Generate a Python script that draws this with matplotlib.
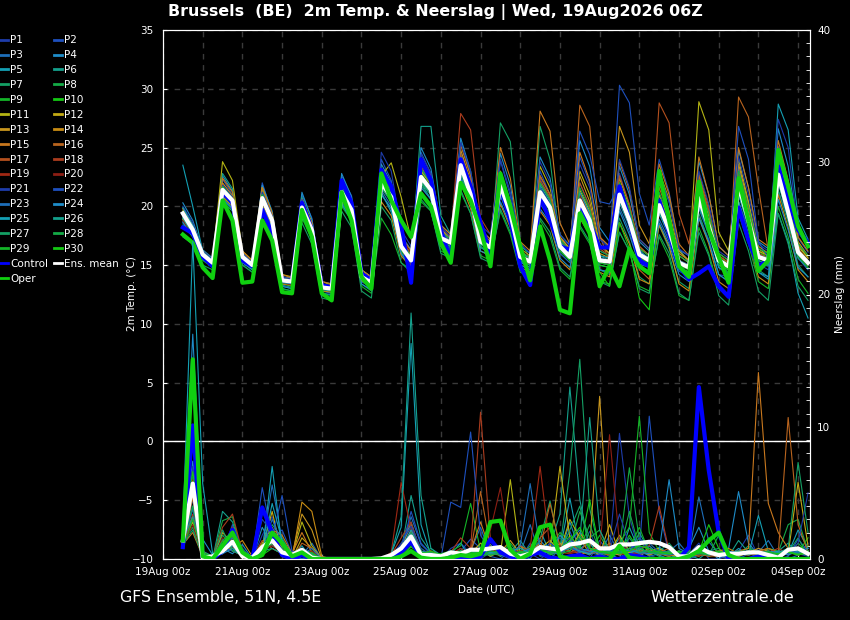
import numpy as np
import pandas as pd
import matplotlib
matplotlib.use('Agg')
import matplotlib.pyplot as plt
import matplotlib.dates as mdates
from matplotlib.ticker import MultipleLocator

# 6-hourly steps, 19Aug 12z .. 04Sep 06z
times = pd.date_range('2026-08-19 12:00', '2026-09-04 06:00', freq='6h')

# ---- 2m temperature (degC) ----
mean_temp = [19.4, 18.0, 15.9, 15.2, 21.4, 20.5, 15.7, 15.0, 20.7, 18.8, 13.7, 13.6, 19.9, 18.0, 13.1, 13.0,
             21.2, 19.7, 14.0, 13.5, 22.0, 20.8, 16.6, 15.4, 22.5, 21.4, 17.3, 16.9, 23.5, 21.0, 17.0, 16.5,
             21.8, 19.4, 15.7, 15.3, 21.2, 19.9, 16.6, 15.7, 20.5, 18.8, 15.4, 15.3, 21.0, 18.8, 15.9, 15.4,
             20.1, 18.0, 15.2, 14.8, 20.7, 18.3, 15.4, 14.9, 21.8, 18.8, 15.7, 15.4, 22.7, 19.5, 16.1, 15.2]
ctrl_temp = [18.2, 17.7, 15.7, 14.9, 21.2, 20.3, 15.4, 14.9, 19.7, 17.7, 13.7, 13.6, 20.3, 18.0, 13.3, 13.1,
             22.2, 20.3, 14.3, 13.7, 23.1, 21.7, 18.3, 13.5, 24.0, 22.2, 18.0, 15.4, 24.0, 21.7, 18.6, 16.0,
             21.7, 18.8, 14.9, 13.3, 20.8, 18.8, 16.6, 16.3, 20.3, 18.6, 16.5, 16.5, 21.7, 18.8, 15.4, 14.9,
             20.5, 17.7, 14.9, 13.8, 14.3, 14.9, 13.2, 12.3, 19.9, 17.1, 14.9, 15.4, 23.4, 20.5, 18.0, 16.9]
oper_temp = [17.6, 16.9, 14.8, 13.9, 20.5, 18.8, 13.5, 13.6, 18.8, 17.1, 12.7, 12.6, 19.7, 17.4, 12.6, 12.0,
             21.2, 18.8, 14.0, 13.0, 22.8, 20.5, 18.8, 17.4, 21.1, 20.0, 16.9, 15.2, 22.0, 20.5, 18.0, 14.9,
             22.8, 20.0, 16.6, 13.7, 18.3, 15.4, 11.2, 10.9, 19.4, 17.7, 13.2, 14.9, 13.2, 16.4, 14.9, 14.3,
             23.0, 18.8, 14.9, 14.0, 22.1, 18.0, 15.7, 13.5, 22.4, 18.8, 14.5, 15.4, 24.8, 21.7, 18.3, 16.6]

t_p1 = [19.8, 18.3, 16.0, 15.4, 21.8, 20.6, 15.9, 15.1, 21.0, 19.0, 13.9, 13.5, 20.3, 18.2, 13.2, 12.9,
        21.9, 20.1, 14.3, 13.8, 23.2, 21.5, 17.0, 15.8, 23.8, 22.1, 17.8, 17.0, 24.6, 22.0, 17.4, 16.2,
        22.9, 20.4, 16.0, 15.0, 22.4, 20.6, 17.0, 16.1, 22.0, 20.0, 16.2, 15.8, 22.8, 20.1, 16.4, 15.2,
        21.0, 18.6, 15.0, 14.3, 19.1, 17.2, 14.2, 14.0, 20.4, 18.1, 15.1, 14.6, 21.3, 19.0, 16.0, 15.1]
t_p2 = [19.0, 17.6, 15.7, 15.0, 22.3, 21.0, 15.3, 14.6, 22.0, 19.4, 13.5, 13.2, 21.0, 19.0, 13.0, 12.6,
        22.6, 20.9, 14.0, 13.2, 24.0, 22.2, 17.1, 15.2, 24.6, 22.8, 18.0, 17.2, 25.5, 22.6, 17.2, 16.0,
        23.9, 20.9, 15.3, 14.6, 23.0, 21.0, 17.2, 16.3, 24.2, 22.0, 17.4, 16.5, 30.3, 28.8, 21.1, 18.4,
        24.0, 21.2, 16.4, 15.2, 22.1, 19.4, 15.3, 14.2, 23.3, 20.3, 16.1, 15.0, 25.1, 22.0, 17.3, 16.1]
t_p3 = [18.7, 17.5, 15.5, 14.9, 20.6, 19.8, 15.4, 14.8, 20.0, 18.3, 13.3, 13.1, 19.4, 17.6, 12.8, 12.6,
        20.4, 19.0, 13.6, 13.1, 21.4, 20.0, 16.0, 15.0, 22.0, 21.0, 17.0, 16.5, 22.6, 20.6, 16.6, 16.0,
        20.9, 18.7, 15.2, 15.0, 20.2, 19.0, 16.0, 15.2, 19.4, 17.8, 14.6, 14.4, 19.9, 17.9, 15.1, 14.8,
        18.9, 17.1, 14.5, 14.0, 19.8, 17.6, 14.8, 14.3, 21.0, 18.2, 15.2, 14.9, 22.0, 19.0, 15.6, 14.6]
t_p4 = [20.3, 18.8, 16.3, 15.6, 22.6, 21.3, 16.0, 15.3, 21.8, 19.6, 14.0, 13.9, 21.2, 18.9, 13.6, 13.4,
        22.8, 20.8, 14.6, 14.0, 23.6, 22.0, 17.5, 16.3, 25.0, 23.2, 18.4, 17.6, 25.8, 23.0, 18.0, 17.2,
        24.5, 21.8, 16.6, 16.0, 24.2, 22.4, 17.6, 16.7, 25.6, 23.4, 18.2, 17.0, 23.4, 21.0, 17.0, 16.2,
        22.6, 20.4, 16.3, 15.8, 23.8, 21.0, 16.6, 15.8, 24.8, 21.6, 17.0, 16.4, 26.6, 23.4, 17.8, 16.6]
t_p5 = [23.5, 20.0, 16.2, 15.3, 21.0, 20.0, 15.6, 14.9, 20.4, 18.6, 13.8, 13.7, 19.6, 17.8, 13.3, 13.1,
        20.8, 19.4, 14.1, 13.6, 21.2, 19.5, 16.2, 15.2, 22.0, 20.6, 16.8, 16.4, 22.8, 20.4, 16.5, 16.0,
        21.0, 18.8, 15.3, 14.8, 20.5, 19.2, 16.2, 15.4, 19.8, 18.2, 15.0, 14.8, 20.3, 18.3, 15.6, 15.0,
        19.4, 17.4, 14.8, 14.4, 20.0, 17.8, 15.0, 14.6, 21.0, 18.4, 15.4, 15.0, 28.7, 26.5, 19.0, 17.2]
t_p6 = [19.2, 17.8, 15.8, 15.1, 22.8, 21.5, 15.8, 15.0, 21.4, 19.2, 13.8, 13.5, 20.8, 18.6, 13.4, 13.0,
        21.8, 20.2, 14.2, 13.4, 22.6, 21.0, 16.4, 15.0, 26.8, 26.8, 19.2, 17.6, 24.0, 21.4, 17.0, 16.4,
        22.2, 19.6, 15.6, 15.0, 21.6, 20.0, 16.4, 15.4, 21.0, 19.4, 15.8, 15.4, 21.6, 19.2, 16.0, 15.5,
        20.4, 18.4, 15.2, 14.8, 21.2, 18.8, 15.6, 15.0, 22.4, 19.3, 16.0, 15.6, 23.2, 20.0, 16.4, 15.2]
t_p7 = [18.9, 17.7, 15.6, 14.9, 20.8, 19.9, 15.3, 14.6, 20.0, 18.2, 13.2, 13.0, 19.2, 17.3, 12.6, 12.4,
        20.3, 18.9, 13.4, 12.8, 21.0, 19.8, 16.0, 14.8, 21.8, 20.6, 16.8, 16.2, 22.8, 20.5, 16.6, 16.0,
        27.1, 25.5, 17.0, 15.6, 26.8, 24.0, 17.0, 15.8, 20.0, 18.0, 14.6, 14.2, 19.0, 17.0, 14.0, 13.4,
        18.4, 16.4, 13.6, 13.0, 19.4, 17.0, 14.2, 13.6, 20.4, 17.6, 14.6, 14.0, 21.4, 18.6, 15.0, 14.0]
t_p8 = [19.6, 18.1, 16.0, 15.3, 21.2, 20.3, 15.5, 14.9, 20.5, 18.7, 13.6, 13.5, 19.8, 17.9, 13.0, 12.8,
        21.0, 19.6, 13.9, 13.3, 22.4, 21.0, 16.8, 15.6, 22.0, 21.0, 17.0, 16.6, 23.0, 20.8, 16.8, 16.4,
        21.4, 19.0, 15.4, 15.0, 21.0, 19.6, 16.4, 15.6, 20.8, 19.0, 15.4, 15.2, 21.6, 19.4, 16.0, 15.4,
        20.0, 17.8, 15.0, 14.6, 20.2, 17.8, 15.0, 14.4, 21.4, 18.4, 15.4, 15.0, 22.4, 19.2, 16.0, 15.0]
t_p9 = [19.0, 17.8, 15.6, 14.8, 20.4, 19.6, 15.0, 14.4, 19.8, 18.0, 13.0, 12.8, 19.0, 17.2, 12.4, 12.2,
        20.0, 18.8, 13.2, 12.6, 19.0, 17.6, 15.2, 14.6, 20.4, 19.6, 16.2, 15.8, 21.2, 19.4, 15.8, 15.4,
        19.6, 17.6, 14.4, 14.0, 18.8, 17.4, 14.6, 13.8, 18.2, 16.8, 13.6, 13.4, 17.8, 16.2, 13.2, 12.8,
        17.4, 15.6, 12.4, 12.0, 18.2, 16.0, 13.0, 12.4, 19.4, 16.8, 13.6, 13.0, 20.0, 17.4, 13.8, 12.6]
t_p10 = [18.4, 17.4, 15.4, 14.8, 21.0, 20.1, 15.4, 14.7, 20.2, 18.4, 13.4, 13.2, 19.6, 17.8, 12.9, 12.7,
         20.6, 19.2, 13.7, 13.1, 21.6, 20.4, 16.2, 15.2, 22.2, 21.0, 17.0, 16.6, 23.2, 20.6, 16.8, 16.2,
         21.2, 19.0, 15.4, 15.0, 20.6, 19.4, 16.2, 15.4, 19.6, 18.0, 15.0, 14.8, 22.0, 19.4, 16.0, 15.4,
         20.6, 18.4, 15.4, 15.0, 21.6, 18.8, 15.6, 15.2, 22.6, 19.6, 16.2, 15.6, 23.6, 20.2, 16.4, 15.4]
t_p11 = [19.8, 18.4, 16.2, 15.5, 23.8, 22.2, 16.2, 15.4, 21.6, 19.4, 14.2, 14.0, 20.6, 18.6, 13.6, 13.3,
         22.0, 20.4, 14.6, 13.9, 22.6, 23.7, 20.8, 17.2, 23.0, 21.8, 17.6, 17.0, 24.2, 21.6, 17.4, 16.8,
         22.4, 20.0, 16.2, 15.6, 23.4, 21.6, 17.4, 16.4, 23.0, 21.0, 16.8, 16.0, 22.4, 20.0, 16.6, 15.8,
         23.0, 20.6, 16.2, 15.4, 28.9, 26.5, 17.8, 16.2, 24.0, 20.4, 16.4, 15.8, 24.6, 21.0, 16.8, 15.6]
t_p12 = [19.2, 17.9, 15.8, 15.1, 21.6, 20.6, 15.8, 15.1, 20.9, 18.9, 13.8, 13.7, 20.1, 18.1, 13.2, 13.1,
         21.4, 19.8, 14.2, 13.6, 22.2, 21.0, 16.8, 15.6, 23.0, 22.0, 18.0, 17.4, 24.0, 21.4, 17.4, 16.8,
         22.4, 19.8, 16.0, 15.6, 22.0, 20.6, 17.2, 16.2, 21.4, 19.6, 16.0, 15.6, 21.8, 19.6, 16.4, 15.8,
         21.0, 18.8, 15.8, 15.2, 21.8, 19.2, 15.8, 15.2, 23.0, 19.8, 16.2, 15.8, 23.8, 20.4, 16.6, 15.6]
t_p13 = [19.4, 18.0, 16.0, 15.3, 22.0, 20.9, 16.0, 15.2, 21.2, 19.2, 14.0, 13.8, 20.4, 18.4, 13.4, 13.2,
         21.6, 20.0, 14.4, 13.8, 22.8, 21.4, 17.2, 15.8, 23.6, 22.2, 18.0, 17.2, 24.8, 22.2, 17.8, 17.0,
         23.0, 20.4, 16.4, 15.8, 22.6, 21.0, 17.4, 16.4, 22.6, 20.4, 16.6, 16.0, 26.8, 24.6, 18.4, 16.8,
         22.0, 19.6, 16.0, 15.4, 22.6, 19.6, 16.0, 15.4, 23.6, 20.2, 16.6, 16.0, 24.4, 21.0, 17.0, 15.8]
t_p14 = [18.9, 17.6, 15.7, 15.0, 20.8, 20.0, 15.4, 14.8, 20.1, 18.4, 13.4, 13.3, 19.3, 17.6, 12.8, 12.7,
         20.6, 19.3, 13.7, 13.2, 20.4, 19.2, 15.8, 14.8, 21.0, 20.2, 16.6, 16.2, 22.0, 19.8, 16.2, 15.8,
         20.2, 18.2, 14.8, 14.4, 19.6, 18.4, 15.4, 14.6, 19.0, 17.6, 14.4, 14.0, 18.6, 16.8, 13.8, 13.4,
         18.4, 16.6, 13.4, 12.8, 19.0, 16.8, 13.6, 13.0, 20.0, 17.2, 14.0, 13.4, 21.0, 18.2, 14.6, 13.6]
t_p15 = [19.6, 18.2, 16.0, 15.4, 22.4, 21.2, 16.2, 15.4, 21.6, 19.4, 14.2, 13.9, 20.6, 18.6, 13.6, 13.4,
         22.0, 20.4, 14.6, 14.0, 23.0, 21.6, 17.4, 16.2, 24.0, 22.6, 18.4, 17.6, 25.2, 22.6, 18.0, 17.2,
         25.0, 22.4, 17.0, 16.2, 28.1, 26.4, 18.6, 16.8, 24.6, 22.2, 17.4, 16.6, 23.8, 21.4, 17.2, 16.4,
         23.6, 21.0, 16.8, 15.8, 24.2, 21.0, 16.6, 15.8, 25.0, 21.6, 17.2, 16.6, 25.6, 22.2, 17.4, 16.2]
t_p16 = [19.1, 17.8, 15.7, 15.1, 21.6, 20.7, 15.6, 14.8, 20.8, 18.8, 13.6, 13.4, 20.0, 18.0, 13.0, 12.8,
         21.4, 19.8, 13.8, 13.2, 22.4, 21.0, 16.4, 15.0, 23.4, 22.0, 17.4, 16.8, 24.4, 21.8, 17.0, 16.4,
         22.8, 20.2, 15.6, 15.0, 22.6, 21.0, 16.6, 15.6, 28.6, 26.8, 17.6, 15.2, 21.0, 18.6, 14.6, 13.8,
         21.6, 19.2, 15.0, 14.2, 22.8, 20.0, 15.4, 14.6, 29.3, 27.6, 21.6, 16.2, 23.6, 20.4, 16.0, 15.0]
t_p17 = [19.5, 18.1, 15.9, 15.3, 21.8, 20.8, 15.8, 15.0, 21.0, 19.0, 13.8, 13.6, 20.2, 18.2, 13.2, 13.0,
         21.6, 20.0, 14.2, 13.6, 22.6, 21.2, 17.0, 15.8, 23.2, 22.0, 17.8, 17.2, 24.2, 21.8, 17.4, 16.8,
         22.6, 20.2, 16.2, 15.6, 22.2, 20.8, 17.0, 16.0, 22.0, 20.0, 16.4, 15.8, 22.6, 20.2, 16.6, 15.8,
         28.8, 27.1, 19.4, 16.8, 22.4, 19.6, 15.8, 15.2, 22.8, 19.6, 16.0, 15.6, 23.4, 20.2, 16.4, 15.4]
t_p18 = [19.3, 17.9, 15.8, 15.2, 21.4, 20.5, 15.7, 15.0, 20.9, 18.9, 13.8, 13.6, 20.2, 18.2, 13.3, 13.0,
         21.5, 19.9, 14.2, 13.6, 22.8, 21.4, 17.2, 16.0, 23.8, 22.4, 18.2, 17.4, 27.9, 26.5, 19.0, 17.6,
         22.0, 19.6, 15.8, 15.4, 21.4, 20.0, 16.6, 15.8, 21.0, 19.2, 15.6, 15.2, 21.4, 19.2, 16.0, 15.4,
         20.4, 18.2, 15.2, 14.8, 21.0, 18.6, 15.4, 14.8, 22.0, 19.0, 15.8, 15.4, 22.6, 19.4, 16.0, 15.0]
t_p19 = [19.7, 18.2, 16.1, 15.4, 21.2, 20.4, 15.6, 14.9, 20.6, 18.8, 13.6, 13.5, 19.8, 18.0, 13.0, 12.9,
         21.0, 19.6, 13.9, 13.4, 22.0, 20.6, 16.6, 15.4, 22.4, 21.2, 17.2, 16.8, 23.4, 21.0, 17.0, 16.4,
         21.6, 19.2, 15.6, 15.2, 21.0, 19.8, 16.4, 15.6, 20.2, 18.6, 15.2, 15.0, 20.6, 18.6, 15.6, 15.2,
         19.8, 17.8, 15.0, 14.6, 20.4, 18.0, 15.2, 14.8, 21.4, 18.6, 15.6, 15.2, 22.4, 19.2, 15.8, 15.0]
t_p20 = [18.8, 17.5, 15.6, 15.0, 21.0, 20.2, 15.5, 14.8, 20.3, 18.5, 13.5, 13.3, 19.5, 17.7, 12.9, 12.8,
         20.8, 19.4, 13.8, 13.3, 21.8, 20.4, 16.4, 15.2, 22.6, 21.4, 17.4, 17.0, 23.6, 21.2, 17.2, 16.6,
         21.8, 19.4, 15.8, 15.4, 21.4, 20.0, 16.6, 15.8, 21.0, 19.0, 15.6, 15.4, 21.4, 19.0, 15.8, 15.4,
         20.6, 18.4, 15.4, 15.0, 21.2, 18.6, 15.6, 15.0, 22.2, 19.0, 15.8, 15.4, 23.0, 19.6, 16.2, 15.2]
t_p21 = [20.0, 18.6, 16.2, 15.5, 21.8, 20.8, 16.0, 15.2, 21.2, 19.2, 14.0, 13.8, 20.6, 18.4, 13.4, 13.2,
         22.2, 20.4, 14.4, 13.8, 24.6, 23.0, 18.0, 16.6, 24.4, 22.8, 18.2, 17.4, 25.4, 23.0, 18.4, 17.6,
         24.0, 21.2, 16.8, 16.0, 23.8, 22.0, 17.6, 16.6, 23.6, 21.6, 17.2, 16.4, 24.0, 21.6, 17.2, 16.4,
         22.8, 20.4, 16.4, 15.8, 23.0, 20.2, 16.2, 15.6, 24.2, 21.0, 16.8, 16.2, 27.4, 25.0, 18.0, 16.6]
t_p22 = [19.1, 17.7, 15.7, 15.1, 21.3, 20.4, 15.6, 14.9, 20.6, 18.6, 13.6, 13.5, 19.9, 17.9, 13.0, 12.9,
         21.2, 19.6, 14.0, 13.4, 22.2, 20.8, 16.6, 15.4, 22.8, 21.6, 17.6, 17.0, 23.8, 21.4, 17.2, 16.6,
         22.0, 19.6, 15.8, 15.4, 21.6, 20.2, 16.8, 16.0, 26.4, 24.4, 20.4, 20.2, 21.8, 19.6, 16.0, 15.4,
         20.2, 18.0, 15.2, 14.8, 20.8, 18.4, 15.4, 14.8, 26.8, 24.0, 17.0, 15.6, 22.2, 19.2, 15.8, 15.0]
t_p23 = [19.4, 18.0, 15.9, 15.2, 21.5, 20.5, 15.7, 15.0, 20.8, 18.8, 13.7, 13.6, 20.0, 18.0, 13.1, 13.0,
         21.3, 19.8, 14.0, 13.5, 22.0, 20.8, 16.6, 15.4, 22.6, 21.4, 17.4, 16.9, 23.6, 21.2, 17.0, 16.6,
         21.8, 19.4, 15.8, 15.4, 21.2, 19.8, 16.6, 15.8, 20.6, 19.0, 15.6, 15.4, 21.2, 19.0, 16.0, 15.6,
         20.2, 18.2, 15.4, 15.0, 20.8, 18.4, 15.6, 15.0, 22.0, 19.0, 15.8, 15.6, 22.8, 19.6, 16.2, 15.4]
t_p24 = [18.6, 17.4, 15.5, 14.9, 20.6, 19.8, 15.2, 14.6, 20.0, 18.2, 13.2, 13.0, 19.2, 17.4, 12.6, 12.5,
         20.2, 18.8, 13.4, 12.9, 21.0, 19.8, 16.0, 14.8, 21.6, 20.6, 16.6, 16.2, 22.4, 20.2, 16.2, 15.8,
         20.4, 18.4, 15.0, 14.6, 19.8, 18.6, 15.6, 14.8, 19.2, 17.8, 14.6, 14.4, 19.6, 17.6, 15.0, 14.4,
         18.6, 16.8, 14.2, 13.6, 19.0, 17.0, 14.2, 13.6, 20.0, 17.4, 14.4, 14.0, 20.6, 18.0, 14.8, 14.0]
t_p25 = [19.9, 18.4, 16.1, 15.4, 21.6, 20.6, 15.8, 15.1, 21.0, 19.0, 13.8, 13.7, 20.2, 18.2, 13.2, 13.1,
         21.6, 20.0, 14.2, 13.6, 22.4, 21.2, 16.8, 15.6, 23.2, 22.0, 17.8, 17.2, 24.2, 21.6, 17.4, 16.8,
         22.4, 19.8, 16.0, 15.6, 21.8, 20.4, 17.0, 16.0, 21.2, 19.4, 15.8, 15.6, 21.6, 19.4, 16.2, 15.6,
         20.4, 18.2, 15.2, 14.8, 20.2, 17.8, 14.8, 14.2, 20.4, 17.6, 14.4, 13.8, 19.4, 17.0, 12.6, 10.5]
t_p26 = [19.0, 17.6, 15.7, 15.0, 21.0, 20.2, 15.5, 14.8, 20.4, 18.6, 13.5, 13.4, 19.6, 17.8, 12.9, 12.8,
         20.9, 19.5, 13.8, 13.3, 21.6, 20.4, 16.4, 15.2, 22.2, 21.0, 17.0, 16.6, 23.2, 20.8, 16.8, 16.2,
         21.4, 19.0, 15.4, 15.0, 21.0, 19.6, 16.4, 15.6, 20.2, 18.6, 15.2, 15.0, 20.6, 18.6, 15.6, 15.0,
         19.6, 17.6, 14.8, 14.4, 20.2, 17.8, 15.0, 14.6, 21.2, 18.4, 15.4, 15.0, 22.0, 19.0, 15.6, 14.8]
t_p27 = [17.4, 16.8, 15.0, 14.6, 20.4, 19.6, 15.0, 14.4, 19.6, 17.8, 13.0, 12.8, 18.6, 16.8, 12.2, 12.0,
         19.6, 18.2, 12.8, 12.2, 20.0, 18.8, 15.2, 14.4, 20.6, 19.6, 16.0, 15.6, 21.4, 19.4, 15.6, 15.2,
         19.8, 17.8, 14.6, 14.2, 19.0, 17.8, 14.8, 14.0, 18.4, 17.0, 13.6, 13.2, 17.8, 16.2, 13.0, 12.6,
         17.6, 16.0, 12.6, 12.0, 17.8, 15.8, 12.4, 11.6, 18.6, 16.2, 12.8, 12.0, 19.4, 16.8, 13.2, 12.0]
t_p28 = [19.5, 18.1, 16.0, 15.3, 21.7, 20.7, 15.8, 15.1, 21.0, 19.0, 13.9, 13.7, 20.3, 18.2, 13.2, 13.1,
         21.6, 20.0, 14.2, 13.7, 22.6, 21.4, 17.0, 15.8, 23.2, 22.0, 17.8, 17.2, 24.0, 21.6, 17.4, 16.8,
         22.6, 20.0, 16.2, 15.6, 22.0, 20.6, 17.2, 16.2, 21.6, 19.8, 16.2, 15.8, 22.0, 19.8, 16.4, 15.8,
         21.2, 19.0, 15.8, 15.2, 21.8, 19.4, 16.0, 15.4, 23.0, 20.0, 16.4, 16.0, 24.0, 20.8, 16.8, 15.8]
t_p29 = [19.2, 17.8, 15.8, 15.1, 21.2, 20.3, 15.6, 14.9, 20.5, 18.7, 13.6, 13.5, 19.7, 17.9, 13.0, 12.9,
         21.0, 19.6, 13.9, 13.4, 21.8, 20.6, 16.6, 15.4, 22.4, 21.2, 17.2, 16.8, 23.4, 21.0, 17.0, 16.4,
         21.6, 19.2, 15.6, 15.2, 21.0, 19.8, 16.4, 15.6, 20.4, 18.6, 15.2, 15.0, 20.8, 18.6, 15.6, 15.2,
         19.8, 17.8, 15.0, 14.6, 20.4, 18.0, 15.2, 14.6, 21.4, 18.6, 15.6, 15.2, 22.2, 19.2, 15.8, 14.8]
t_p30 = [19.6, 18.2, 16.0, 15.3, 21.6, 20.6, 15.8, 15.0, 20.9, 18.9, 13.7, 13.6, 20.0, 18.1, 13.1, 13.0,
         21.3, 19.8, 14.0, 13.5, 22.2, 21.0, 16.8, 15.6, 22.8, 21.6, 17.4, 17.0, 23.8, 21.4, 17.2, 16.6,
         22.0, 19.6, 15.8, 15.4, 21.4, 20.0, 16.8, 15.8, 20.2, 18.4, 14.4, 13.2, 18.6, 16.4, 12.2, 11.2,
         20.0, 17.6, 14.8, 14.4, 20.6, 18.2, 15.2, 14.6, 21.6, 18.8, 15.6, 15.2, 22.4, 19.4, 16.0, 15.0]

# ---- 6-hourly precipitation (mm) ----
mean_rain = [1.4, 5.7, 0.1, 0.2, 0.6, 1.3, 0.2, 0.1, 0.9, 1.4, 0.5, 0.3, 0.7, 0.1, 0, 0,
             0, 0, 0, 0, 0.05, 0.3, 0.8, 1.7, 0.3, 0.3, 0.2, 0.5, 0.4, 0.7, 0.7, 0.8,
             0.9, 0.4, 0.2, 0.4, 0.9, 0.8, 0.7, 1.1, 1.2, 1.4, 0.8, 0.8, 1.1, 1.1, 1.2, 1.3,
             1.2, 0.9, 0.2, 0.2, 0.9, 0.5, 0.3, 0.4, 0.4, 0.5, 0.5, 0.3, 0.1, 0.7, 0.8, 0.4]
ctrl_rain = [0.9, 10.1, 0.1, 0, 0.6, 2.2, 0.3, 0, 3.9, 2.0, 0.3, 0, 0.3, 0, 0, 0,
             0, 0, 0, 0, 0, 0, 0.5, 1.3, 0.2, 0, 0, 0, 0, 0, 0.2, 1.5,
             0.5, 0.2, 0, 0.3, 0.5, 0.1, 0, 0.2, 0.3, 0, 0.2, 0, 0, 0.3, 0.2, 0,
             0, 0, 0, 0.9, 13.0, 6.7, 2.0, 0, 0, 0, 0.2, 0, 0, 0, 0, 0]
oper_rain = [1.4, 15.1, 0.2, 0, 1.0, 2.0, 0.5, 0, 0.3, 2.0, 1.2, 0.2, 0.5, 0, 0, 0,
             0, 0, 0, 0, 0, 0, 0.2, 0.6, 0.1, 0, 0, 0.1, 0.3, 0.2, 0.4, 2.8,
             2.9, 0.7, 0, 0.4, 2.4, 2.6, 0.2, 0, 0, 0, 0, 0, 1.0, 0.1, 0, 0,
             0, 0, 0, 0.2, 0.6, 1.4, 2.0, 0.3, 0, 0, 0, 0, 0, 0, 0, 0]

r_p1 = [1.2, 4.5, 0.3, 0, 1.5, 0.8, 0.2, 0, 1.8, 3.2, 0.6, 0, 0.4, 0, 0, 0,
        0, 0, 0, 0, 0, 0.2, 1.1, 2.4, 0.6, 0.2, 0, 0.8, 1.2, 0.4, 0, 0.5,
        0.3, 0, 1.1, 0.4, 0, 0.5, 1.6, 0.8, 0.4, 2.1, 0.3, 0.6, 9.5, 3.2, 0.5, 0.3,
        0, 0.2, 0, 0.4, 1.2, 0, 0, 0.3, 0.6, 1.8, 0.2, 0, 0, 0.8, 0.4, 0.2]
r_p2 = [0.8, 6.2, 0.1, 0.2, 0.4, 2.6, 0.3, 0, 0.5, 1.6, 2.2, 0.4, 0, 0, 0, 0,
        0, 0, 0, 0, 0, 0, 0.4, 1.8, 0.2, 0, 0.3, 0, 0.6, 1.5, 0.8, 0.2,
        0, 0.6, 0, 1.2, 0.3, 0, 0.8, 2.1, 0.2, 0, 1.4, 0.5, 0.3, 1.2, 0.6, 10.8,
        3.6, 0.4, 0, 0, 0.3, 0.5, 0.2, 0, 0, 0.4, 0.8, 0.3, 0, 0.2, 1.5, 0.6]
r_p3 = [1.5, 3.0, 0.5, 0, 0.6, 1.8, 0.4, 0.1, 0.8, 5.6, 1.4, 0, 0.3, 1.2, 0, 0,
        0, 0, 0, 0, 0, 0.3, 0.6, 3.2, 1.1, 0.4, 0, 0.2, 0, 0.6, 2.4, 0.3,
        0.8, 0, 0.4, 2.6, 0.2, 0.4, 0, 1.3, 2.2, 0.5, 0.3, 1.8, 0.4, 0, 0.8, 0.2,
        0.4, 0.6, 1.2, 0.3, 4.7, 1.3, 0.4, 0, 0.2, 0, 0.5, 1.4, 0.2, 0, 0.3, 1.2]
r_p4 = [2.0, 7.4, 0.2, 0, 0.8, 0.4, 1.1, 0, 2.4, 1.0, 0.6, 0, 0, 0, 0, 0,
        0, 0, 0, 0, 0, 0, 0.8, 2.8, 0.4, 0, 0, 0.3, 0.2, 0, 0.6, 1.1,
        0.2, 0.9, 0.3, 0, 1.4, 0.6, 0.3, 2.8, 0.6, 0.3, 0.9, 0.4, 1.6, 0.5, 0, 1.0,
        0.3, 0, 0.4, 0.8, 2.4, 0.6, 0, 0.8, 5.1, 1.2, 0.3, 0.5, 0, 0.6, 0.9, 0.4]
r_p5 = [1.6, 5.2, 0.6, 0.2, 0.4, 1.2, 0.2, 0, 0.4, 7.0, 0.8, 0.3, 1.0, 0, 0, 0,
        0, 0, 0, 0, 0, 0.4, 2.4, 16.3, 2.6, 0.3, 0, 0.4, 1.2, 0, 0.3, 0.4,
        0.6, 0.3, 0, 0.8, 2.2, 0.4, 0.6, 4.6, 0.8, 1.2, 0.2, 0.4, 0, 2.4, 0.6, 0.3,
        0.9, 0.4, 0, 0.2, 0.6, 0.3, 0.4, 0.2, 0.8, 0.3, 3.3, 0.6, 0.2, 0.4, 2.2, 0.8]
r_p6 = [1.0, 4.0, 0.3, 0, 3.6, 2.8, 0.6, 0, 0.6, 1.4, 0.2, 0, 0.2, 0, 0, 0,
        0, 0, 0, 0, 0, 0, 0.6, 4.8, 1.6, 0.5, 0.3, 0, 0, 0.2, 0.4, 0.8,
        0.2, 0.5, 1.4, 0.3, 0.5, 1.0, 3.4, 13.0, 4.5, 0.8, 0.3, 0.5, 1.2, 0.4, 2.0, 0.6,
        0.2, 0, 0.5, 0.3, 0, 0.6, 0.8, 0.2, 1.4, 0.5, 0.2, 0, 0.6, 1.2, 0.4, 0.3]
r_p7 = [1.3, 2.4, 0.2, 0.1, 1.8, 1.0, 0.2, 0, 0.2, 2.6, 1.6, 0.2, 0.6, 0.4, 0, 0,
        0, 0, 0, 0, 0, 0.2, 0.5, 1.4, 0.3, 0.8, 0.2, 0.3, 0.8, 0.2, 0.6, 0.2,
        1.0, 0.2, 0.6, 0.3, 1.5, 4.4, 0.8, 6.6, 15.1, 3.8, 0.6, 0.2, 0.4, 0.8, 1.0, 0.3,
        0.6, 1.2, 0.3, 0.2, 0.4, 0.3, 1.8, 0.5, 0.3, 1.0, 0.2, 0.4, 0.3, 0.5, 1.6, 0.2]
r_p8 = [0.9, 5.6, 0.4, 0, 2.9, 3.2, 0.3, 0.1, 0.4, 1.2, 0.8, 0, 0.2, 0, 0, 0,
        0, 0, 0, 0, 0, 0, 0.3, 1.0, 0.5, 0.2, 0, 0.2, 0.4, 0.6, 0.3, 0.6,
        0.4, 1.2, 0.2, 0.5, 0.3, 1.2, 0.4, 0.8, 3.6, 1.6, 2.2, 0.6, 0.8, 6.9, 1.4, 0.5,
        0.4, 0.3, 0.6, 0.5, 0.3, 0.4, 0.6, 0.3, 0.5, 0.8, 0.4, 0.3, 0.5, 2.6, 3.0, 0.6]
r_p9 = [1.1, 3.8, 0.3, 0.2, 0.9, 1.4, 0.5, 0, 0.6, 2.0, 1.2, 0.3, 0.4, 0.6, 0, 0,
        0, 0, 0, 0, 0, 0.3, 0.4, 2.0, 0.8, 0.3, 0, 0.6, 1.0, 4.2, 0.6, 0.3,
        0.5, 0.3, 0.8, 0.4, 0.6, 0.9, 2.0, 1.4, 0.6, 0.4, 1.8, 0.5, 1.2, 2.4, 10.8, 2.0,
        0.6, 0.5, 0.2, 0.6, 0.4, 1.6, 0.3, 0.2, 0.6, 0.4, 0.2, 0.8, 0.6, 0.3, 1.2, 0.4]
r_p10 = [1.4, 6.8, 0.2, 0, 1.2, 0.6, 0.8, 0, 0.3, 0.8, 0.4, 0, 0.3, 0, 0, 0,
         0, 0, 0, 0, 0, 0, 0.2, 0.9, 0.4, 0, 0.2, 0, 0.3, 0.5, 0.2, 0.4,
         0.3, 0.6, 0.2, 1.0, 0.4, 0.3, 0.6, 1.8, 0.8, 4.5, 0.6, 0.3, 0.5, 1.8, 0.6, 1.2,
         0.5, 0.2, 0.4, 0.3, 0.5, 2.6, 0.8, 0.2, 0.3, 0.6, 0.4, 0.2, 0.3, 0.8, 0.5, 1.6]
r_p11 = [1.8, 4.8, 0.4, 0, 0.6, 1.6, 0.3, 0, 1.2, 2.4, 0.8, 0.2, 2.8, 1.0, 0, 0,
         0, 0, 0, 0, 0, 0.2, 0.9, 2.6, 0.6, 0.2, 0.4, 0.3, 0.6, 0.4, 1.2, 0.5,
         0.4, 6.0, 0.3, 0.6, 0.8, 1.4, 0.6, 3.0, 1.6, 0.4, 0.8, 0.5, 1.8, 0.6, 0.4, 0.8,
         0.3, 0.6, 0.2, 0.4, 0.3, 0.5, 0.6, 0.4, 0.2, 0.5, 0.6, 0.4, 0.3, 0.6, 0.8, 0.3]
r_p12 = [1.2, 2.8, 0.1, 0, 2.0, 1.2, 0.4, 0, 0.8, 3.6, 0.3, 0, 1.6, 0.8, 0, 0,
         0, 0, 0, 0, 0, 0, 0.5, 1.5, 0.4, 0.6, 0, 0.4, 0.3, 0, 0.8, 0.2,
         0.6, 0.4, 1.0, 0.2, 0.5, 0.8, 7.0, 1.6, 0.5, 0.8, 0.3, 2.6, 0.4, 0.5, 0.3, 0.6,
         0.8, 0.3, 0.2, 0.6, 0.4, 0.3, 0.2, 0.5, 0.4, 0.3, 0.6, 0.8, 0.5, 0.4, 5.8, 1.0]
r_p13 = [0.9, 5.0, 0.3, 0.1, 0.8, 2.2, 0.5, 0, 0.3, 1.8, 1.0, 0.3, 3.4, 2.2, 0, 0,
         0, 0, 0, 0, 0, 0.3, 0.6, 1.2, 0.2, 0.4, 0.3, 0, 0.4, 0.6, 0.3, 0.8,
         0.5, 1.4, 0.4, 0.3, 0.6, 0.5, 1.2, 0.6, 2.0, 0.8, 12.3, 0.5, 0.3, 0.8, 0.6, 0.4,
         0.6, 0.4, 0.3, 0.2, 0.5, 0.6, 0.3, 0.4, 0.3, 0.5, 0.8, 0.6, 0.2, 0.5, 0.4, 0.6]
r_p14 = [1.5, 3.2, 0.5, 0, 1.0, 0.8, 1.4, 0.2, 0.6, 1.2, 0.6, 0, 4.3, 3.6, 0.2, 0,
         0, 0, 0, 0, 0, 0.2, 0.4, 2.2, 0.5, 0.2, 0, 0.3, 0.4, 0.2, 0.6, 0.4,
         0.3, 0.6, 0.2, 0.8, 0.4, 0.6, 0.4, 1.2, 0.6, 0.4, 0.8, 0.5, 0.4, 0.6, 0.8, 0.3,
         0.6, 0.4, 0.3, 0.5, 0.4, 0.3, 0.6, 0.8, 0.4, 0.6, 0.3, 0.5, 0.4, 0.6, 0.3, 0.5]
r_p15 = [1.1, 2.0, 0.2, 0, 0.7, 1.8, 0.6, 0, 0.4, 2.2, 1.8, 0.4, 2.0, 0.5, 0, 0,
         0, 0, 0, 0, 0, 0, 0.6, 1.6, 0.4, 0.3, 0.2, 0.5, 0.2, 0.6, 2.8, 0.6,
         0.4, 0.8, 0.3, 0.5, 1.2, 0.4, 0.6, 0.8, 0.3, 0.6, 1.0, 0.4, 0.8, 0.3, 0.5, 0.6,
         0.4, 0.2, 0.5, 0.3, 0.4, 0.2, 0.3, 0.5, 0.6, 0.8, 14.1, 4.2, 2.0, 0.8, 0.6, 0.4]
r_p16 = [1.3, 4.6, 0.4, 0.2, 1.4, 0.6, 0.3, 0, 1.0, 1.6, 0.6, 0, 1.2, 0.8, 0, 0,
         0, 0, 0, 0, 0, 0.2, 0.8, 2.0, 0.6, 0.2, 0.4, 0.2, 0.6, 0.5, 5.1, 0.8,
         0.6, 0.3, 1.0, 0.6, 0.8, 4.2, 1.0, 0.5, 0.8, 0.4, 0.6, 1.2, 0.5, 0.3, 0.6, 0.4,
         0.5, 0.8, 0.3, 0.4, 0.2, 0.5, 0.3, 0.4, 0.3, 0.5, 0.6, 0.8, 0.4, 10.7, 2.6, 0.5]
r_p17 = [1.6, 5.4, 0.6, 0, 0.5, 1.0, 0.2, 0, 1.4, 0.8, 0.4, 0.2, 0.6, 0.3, 0, 0,
         0, 0, 0, 0, 0, 0, 0.5, 1.9, 0.3, 0.5, 0.2, 0.4, 0.3, 0.8, 0.6, 0.4,
         1.0, 0.5, 0.3, 0.8, 1.6, 2.4, 0.5, 0.9, 0.6, 1.4, 0.5, 0.3, 0.6, 0.4, 0.3, 0.8,
         0.4, 0.3, 0.6, 0.2, 0.4, 0.3, 0.6, 0.4, 0.5, 0.3, 0.4, 0.6, 0.3, 0.5, 0.8, 0.4]
r_p18 = [0.8, 3.4, 0.3, 0.1, 2.4, 3.4, 0.5, 0, 0.6, 1.4, 0.8, 0.3, 0.8, 0.4, 0, 0,
         0, 0, 0, 0, 0, 0.3, 1.6, 2.8, 0.4, 0.6, 0.3, 0.5, 1.6, 0.8, 11.1, 1.4,
         0.6, 0.8, 0.5, 0.3, 0.8, 0.6, 0.9, 1.2, 0.5, 0.8, 0.6, 1.0, 0.4, 0.6, 0.8, 1.0,
         4.0, 0.6, 0.3, 0.5, 0.4, 0.3, 0.2, 0.6, 0.4, 0.3, 0.6, 0.5, 0.8, 0.4, 0.6, 0.5]
r_p19 = [1.4, 6.0, 0.4, 0, 0.8, 2.4, 0.2, 0, 0.8, 1.0, 0.5, 0, 0.5, 0.2, 0, 0,
         0, 0, 0, 0, 0, 0.5, 5.8, 2.2, 0.6, 0.3, 0, 0.4, 0.8, 0.3, 0.6, 0.5,
         0.8, 0.4, 0.6, 0.8, 7.0, 0.8, 0.5, 0.4, 0.6, 0.8, 0.5, 0.6, 0.4, 0.3, 0.5, 0.6,
         0.4, 0.3, 0.5, 0.6, 0.4, 0.3, 0.4, 0.5, 0.3, 0.6, 0.4, 0.5, 0.3, 0.4, 0.6, 0.3]
r_p20 = [1.0, 2.6, 0.2, 0, 1.6, 1.4, 0.4, 0, 0.2, 1.8, 1.0, 0.3, 0.3, 0.6, 0, 0,
         0, 0, 0, 0, 0, 0, 0.4, 1.3, 0.5, 0.2, 0.3, 0, 0.4, 0.6, 0.8, 2.2,
         5.4, 0.6, 0.3, 0.4, 0.5, 0.6, 1.0, 0.4, 0.8, 0.5, 0.6, 9.4, 1.2, 0.6, 0.4, 0.5,
         0.6, 0.3, 0.4, 0.5, 0.3, 0.4, 0.6, 0.3, 0.5, 0.4, 0.3, 0.6, 0.4, 0.5, 0.3, 0.6]
r_p21 = [1.7, 7.0, 0.5, 0.1, 0.6, 1.2, 0.8, 0, 3.0, 2.0, 0.4, 0, 0.4, 0.2, 0, 0,
         0, 0, 0, 0, 0, 0.2, 1.2, 2.5, 0.8, 0.3, 0.2, 0.6, 0.5, 0.8, 0.4, 0.6,
         0.3, 0.8, 0.4, 0.6, 1.0, 0.5, 0.8, 1.6, 0.6, 0.8, 0.4, 0.6, 3.4, 1.0, 0.8, 1.2,
         0.5, 0.4, 0.3, 0.5, 0.6, 0.4, 0.3, 0.5, 0.6, 0.4, 0.5, 0.3, 0.6, 0.4, 1.2, 5.0]
r_p22 = [1.3, 3.8, 0.2, 0, 0.9, 0.6, 0.3, 0, 5.4, 1.6, 4.8, 0.6, 0.4, 0, 0, 0,
         0, 0, 0, 0, 0, 0, 0.6, 3.6, 1.2, 0.4, 0, 4.3, 3.9, 9.6, 1.8, 0.6,
         0.4, 0.6, 0.3, 0.8, 0.5, 1.2, 0.6, 0.8, 0.6, 0.5, 0.8, 0.6, 0.9, 0.6, 1.6, 0.8,
         0.5, 0.6, 0.4, 0.3, 0.5, 0.6, 0.4, 0.3, 0.5, 0.6, 0.4, 0.3, 0.5, 0.4, 0.6, 0.5]
r_p23 = [1.9, 5.4, 0.4, 0.2, 1.0, 1.6, 0.6, 0, 0.6, 3.0, 1.2, 0.2, 0.3, 0.8, 0, 0,
         0, 0, 0, 0, 0, 0.3, 0.7, 1.9, 0.4, 0.5, 0.2, 0.3, 0.6, 0.4, 0.5, 0.8,
         0.6, 0.4, 1.0, 5.7, 0.8, 0.5, 0.4, 1.0, 0.5, 0.8, 0.4, 0.6, 0.5, 0.8, 0.4, 0.6,
         0.5, 0.4, 0.6, 0.3, 0.4, 0.5, 0.3, 0.6, 0.4, 0.5, 0.6, 0.4, 0.3, 0.6, 0.5, 0.4]
r_p24 = [1.2, 17.0, 1.5, 0.3, 0.4, 0.8, 0.3, 0, 0.8, 1.2, 0.6, 0, 0.2, 0.4, 0, 0,
         0, 0, 0, 0, 0, 0.2, 0.6, 1.6, 0.5, 0.3, 0.4, 0.2, 0.6, 0.3, 0.8, 0.4,
         0.6, 0.3, 0.5, 0.8, 0.4, 0.6, 0.5, 1.4, 0.8, 0.6, 0.5, 0.4, 0.8, 0.6, 0.5, 0.4,
         0.6, 6.0, 0.8, 0.4, 0.5, 0.3, 0.4, 0.6, 0.3, 0.5, 0.4, 0.6, 0.5, 0.3, 0.6, 0.8]
r_p25 = [2.2, 24.0, 5.7, 0.4, 0.6, 1.0, 0.4, 0, 0.4, 4.2, 1.4, 0.4, 0.8, 0.4, 0, 0,
         0, 0, 0, 0, 0, 0.2, 0.8, 2.2, 0.6, 0.4, 0.3, 0.5, 0.4, 0.6, 0.3, 0.5,
         0.4, 0.6, 0.8, 0.5, 0.6, 0.4, 1.8, 1.0, 0.6, 0.4, 0.8, 0.5, 0.6, 0.4, 0.8, 0.5,
         0.4, 0.6, 0.3, 0.5, 0.4, 0.6, 0.3, 0.4, 0.6, 0.5, 0.4, 0.3, 0.6, 0.5, 0.4, 0.6]
r_p26 = [1.4, 3.2, 0.3, 0, 1.2, 0.8, 0.4, 0, 0.6, 0.8, 0.4, 0.2, 0.3, 0.2, 0, 0,
         0, 0, 0, 0, 0, 0.4, 3.2, 18.6, 4.8, 0.8, 0.3, 0.4, 0.6, 0.3, 0.5, 0.4,
         0.6, 0.4, 0.5, 0.6, 0.8, 0.4, 0.6, 0.8, 1.4, 10.7, 2.2, 0.6, 0.4, 0.8, 0.5, 0.6,
         0.4, 0.3, 0.6, 0.4, 0.5, 0.3, 0.6, 0.4, 0.5, 0.3, 0.6, 0.4, 0.5, 0.8, 0.6, 0.4]
r_p27 = [1.1, 2.2, 0.2, 0, 2.2, 0.6, 0.3, 0, 0.4, 1.6, 0.8, 0, 0.6, 0.4, 0, 0,
         0, 0, 0, 0, 0, 0, 0.4, 2.0, 0.6, 0.2, 0.4, 0.3, 0.5, 0.6, 0.4, 0.3,
         0.5, 0.6, 0.4, 0.3, 0.6, 0.8, 0.5, 2.2, 4.0, 0.8, 0.5, 0.6, 0.4, 1.6, 0.5, 0.6,
         0.4, 0.5, 0.3, 0.6, 0.4, 0.5, 0.3, 0.4, 0.6, 0.5, 0.4, 0.6, 0.3, 0.8, 7.3, 2.0]
r_p28 = [1.5, 4.0, 0.4, 0.1, 1.4, 2.0, 0.5, 0, 0.6, 1.2, 0.5, 0, 0.4, 0.2, 0, 0,
         0, 0, 0, 0, 0, 0.2, 0.5, 1.4, 0.3, 0.5, 0.2, 0.4, 0.3, 0.5, 0.6, 0.3,
         0.4, 0.6, 0.3, 0.5, 0.8, 0.4, 0.6, 1.2, 0.8, 2.6, 0.6, 0.4, 0.5, 3.6, 0.8, 0.5,
         0.4, 0.6, 0.3, 0.5, 0.4, 0.3, 0.5, 0.4, 0.3, 0.5, 0.4, 0.6, 0.3, 0.5, 0.4, 0.6]
r_p29 = [0.8, 3.0, 0.3, 0, 1.0, 1.4, 0.3, 0, 0.4, 1.8, 0.6, 0.2, 0.3, 0.5, 0, 0,
         0, 0, 0, 0, 0, 0.3, 0.6, 1.8, 0.5, 0.3, 0.4, 0.6, 0.4, 0.5, 0.3, 0.6,
         0.5, 0.3, 0.6, 0.4, 0.5, 0.8, 0.4, 0.6, 1.8, 0.8, 0.5, 0.4, 0.6, 0.8, 2.4, 0.5,
         0.6, 0.4, 0.5, 0.3, 0.6, 0.4, 0.5, 0.3, 0.4, 0.6, 0.3, 0.5, 0.4, 0.6, 0.3, 0.5]
r_p30 = [1.6, 6.6, 0.5, 0.2, 0.8, 1.2, 0.6, 0, 0.8, 2.2, 1.0, 0.3, 0.6, 0.3, 0, 0,
         0, 0, 0, 0, 0, 0.2, 0.5, 1.6, 0.4, 0.6, 0.3, 0.5, 0.6, 0.4, 0.5, 0.8,
         0.6, 0.4, 0.5, 0.3, 0.6, 0.5, 0.8, 1.4, 2.4, 0.8, 0.6, 0.5, 0.4, 0.6, 1.0, 0.8,
         0.5, 0.4, 0.6, 0.3, 0.5, 0.4, 0.6, 0.3, 0.5, 0.4, 0.6, 0.3, 0.4, 0.5, 0.3, 0.6]

member_temp = [t_p1, t_p2, t_p3, t_p4, t_p5, t_p6, t_p7, t_p8, t_p9, t_p10,
               t_p11, t_p12, t_p13, t_p14, t_p15, t_p16, t_p17, t_p18, t_p19, t_p20,
               t_p21, t_p22, t_p23, t_p24, t_p25, t_p26, t_p27, t_p28, t_p29, t_p30]
member_rain = [r_p1, r_p2, r_p3, r_p4, r_p5, r_p6, r_p7, r_p8, r_p9, r_p10,
               r_p11, r_p12, r_p13, r_p14, r_p15, r_p16, r_p17, r_p18, r_p19, r_p20,
               r_p21, r_p22, r_p23, r_p24, r_p25, r_p26, r_p27, r_p28, r_p29, r_p30]

# colour cycle used by the site: blue -> green -> yellow -> red, then again
base_colors = ['#1e3caa', '#1e50be', '#1e6eb9', '#1e8cc8', '#14a0b4', '#14a08c', '#14a064',
               '#14aa46', '#14b428', '#14c814', '#b4b414', '#c3aa14', '#c8961e', '#c88c14',
               '#c8781e', '#b9641e', '#b4501e', '#aa3c1e', '#a02814', '#8c1e14']
member_colors = base_colors + base_colors[:10]

fg = 'white'
fig = plt.figure(figsize=(8.5, 6.2), dpi=100, facecolor='black')
ax = fig.add_axes([163/850, 1 - 559/620, 647/850, 529/620])
ax.set_facecolor('black')
ax2 = ax.twinx()

for k in range(30):
    ax.plot(times, member_temp[k], color=member_colors[k], lw=0.8, label='P%d' % (k + 1))
    ax2.plot(times, member_rain[k], color=member_colors[k], lw=0.8)

ax.plot(times, ctrl_temp, color='#0000ff', lw=3, label='Control')
ax.plot(times, mean_temp, color='white', lw=3, label='Ens. mean')
ax.plot(times, oper_temp, color='#10d010', lw=3, label='Oper')
ax2.plot(times, ctrl_rain, color='#0000ff', lw=3)
ax2.plot(times, mean_rain, color='white', lw=3)
ax2.plot(times, oper_rain, color='#10d010', lw=3)

ax.axhline(0, color='white', lw=1)

t0 = pd.Timestamp('2026-08-19 00:00')
ax.set_xticks(mdates.date2num(pd.date_range('2026-08-19', '2026-09-04', freq='2D')))
ax.set_xticks(mdates.date2num(pd.date_range('2026-08-20', '2026-09-04', freq='D')), minor=True)
ax.xaxis.set_major_formatter(mdates.DateFormatter('%d%b %Hz'))
ax.set_xlim(mdates.date2num(t0), mdates.date2num(t0 + pd.Timedelta(days=16.3)))
ax.set_ylim(-10, 35)
ax2.set_ylim(0, 40)
ax.yaxis.set_major_locator(MultipleLocator(5))
ax2.yaxis.set_major_locator(MultipleLocator(10))
ax2.yaxis.set_minor_locator(MultipleLocator(1))

ax.grid(True, which='both', axis='x', color='#3a3a3a', ls=(0, (4, 4)), lw=1)
ax.grid(True, which='major', axis='y', color='#3a3a3a', ls=(0, (4, 4)), lw=1)
ax.set_axisbelow(True)

ax.tick_params(axis='both', which='both', colors=fg, labelsize=7.5, direction='in', length=3)
ax.tick_params(axis='x', which='minor', length=0)
ax.tick_params(axis='y', pad=7)
ax.tick_params(axis='x', pad=6)
ax2.tick_params(axis='y', which='both', colors=fg, labelsize=7.5, direction='in', length=3, pad=5)
for a in (ax, ax2):
    for s in a.spines.values():
        s.set_color(fg)

fig.text(132/850, 1 - 294/620, '2m Temp. (°C)', rotation=90, ha='center', va='center', color=fg, fontsize=7.5)
fig.text(840/850, 1 - 294/620, 'Neerslag (mm)', rotation=90, ha='center', va='center', color=fg, fontsize=7.5)
fig.text(486/850, 1 - 589/620, 'Date (UTC)', ha='center', va='center', color=fg, fontsize=7.5)

fig.text(435.5/850, 1 - 12/620, 'Brussels  (BE)  2m Temp. & Neerslag | Wed, 19Aug2026 06Z',
         ha='center', va='center', color=fg, fontsize=11.4, fontweight='bold')
fig.text(120/850, 1 - 598/620, 'GFS Ensemble, 51N, 4.5E', ha='left', va='center', color=fg, fontsize=11.4)
fig.text(650/850, 1 - 598/620, 'Wetterzentrale.de', ha='left', va='center', color=fg, fontsize=11.4)

# legend, two columns filled row-wise like the original
handles, labels = ax.get_legend_handles_labels()
order = list(range(0, 30, 2)) + [30, 32] + list(range(1, 30, 2)) + [31]
leg = fig.legend([handles[i] for i in order], [labels[i] for i in order],
                 loc='upper left', bbox_to_anchor=(0.0, 0.943), ncol=2, frameon=False,
                 fontsize=7.5, labelcolor=fg, handlelength=0.8, handletextpad=0.15,
                 columnspacing=0.6, labelspacing=0.47, borderpad=0, borderaxespad=0)
for h in leg.get_lines():
    h.set_linewidth(2)

fig.savefig('out.png', dpi=100, facecolor='black')
